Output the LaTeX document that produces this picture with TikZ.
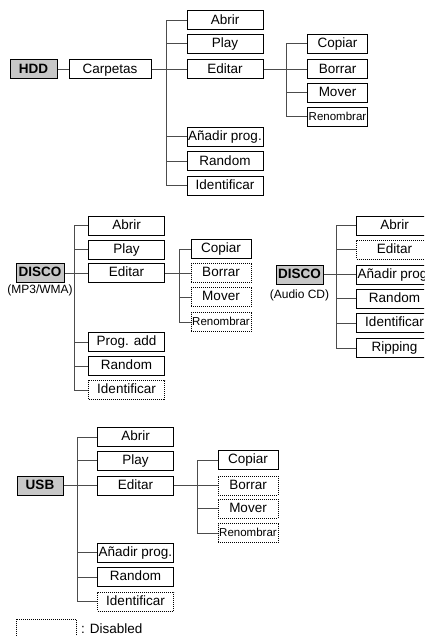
\documentclass[tikz,border=0pt]{standalone}
\usepackage{fontspec}
\setmainfont{Liberation Sans}
\begin{document}
\begin{tikzpicture}[x=1pt,y=-1pt,
  box/.style={draw=black, line width=1pt, minimum height=19pt, inner sep=0pt,
    font=\fontsize{13.5}{14}\selectfont, text height=9.8pt, text depth=2.6pt},
  mainw/.style={box, minimum width=76pt},
  subw/.style={box, minimum width=60pt},
  small/.style={font=\fontsize{11.5}{12}\selectfont, text height=8.4pt, text depth=2.2pt},
  dis/.style={line width=0.8pt, dash pattern=on 1pt off 1pt},
  root/.style={box, fill=black!22, font=\bfseries\fontsize{13.5}{14}\selectfont, minimum width=47pt},
  sublabel/.style={font=\fontsize{12}{13}\selectfont, inner sep=0pt},
  conn/.style={draw=black!70, line width=1pt}]
\useasboundingbox (0,0) rectangle (424,636);
\clip (0,0) rectangle (424,636);

% ---------- HDD ----------
\node[root] (hdd) at (33.5,69.5) {HDD};
\node[box, minimum width=82pt] (carp) at (110,69.5) {Carpetas};
\node[mainw] (h1) at (225,20.5) {Abrir};
\node[mainw] (h2) at (225,44) {Play};
\node[mainw] (h3) at (225,69.5) {Editar};
\node[mainw] (h4) at (225,137) {Añadir prog.};
\node[mainw] (h5) at (225,161.5) {Random};
\node[mainw] (h6) at (225,186) {Identificar};
\node[subw] (h31) at (337.5,44) {Copiar};
\node[subw] (h32) at (337.5,69.5) {Borrar};
\node[subw] (h33) at (337.5,93) {Mover};
\node[subw,small] (h34) at (337.5,117) {Renombrar};
\coordinate (ht) at (166,69.5);
\coordinate (hst) at (286,69.5);
\draw[conn] (hdd.east) -- (carp.west);
\draw[conn] (carp.east) -- (h3.west);
\foreach \n in {h1,h2,h4,h5,h6} \draw[conn] (ht) |- (\n.west);
\draw[conn] (h3.east) -- (h32.west);
\foreach \n in {h31,h33,h34} \draw[conn] (hst) |- (\n.west);

% ---------- DISCO (MP3/WMA) ----------
\node[root, minimum width=48pt] (d) at (40,273) {DISCO};
\node[sublabel] (dl) at (40,290) {(MP3/WMA)};
\node[mainw] (d1) at (126.5,225.5) {Abrir};
\node[mainw] (d2) at (126.5,249.5) {Play};
\node[mainw] (d3) at (126.5,273) {Editar};
\node[mainw] (d4) at (126.5,342) {Prog. add};
\node[mainw] (d5) at (126.5,366) {Random};
\node[mainw,dis] (d6) at (126.5,390) {Identificar};
\node[subw] (d31) at (221,249) {Copiar};
\node[subw,dis] (d32) at (221,273) {Borrar};
\node[subw,dis] (d33) at (221,297) {Mover};
\node[subw,small,dis] (d34) at (221,322) {Renombrar};
\coordinate (dt) at (74,273);
\coordinate (dst) at (179,273);
\draw[conn] (d.east) -- (d3.west);
\foreach \n in {d1,d2,d4,d5,d6} \draw[conn] (dt) |- (\n.west);
\draw[conn] (d3.east) -- (d32.west);
\foreach \n in {d31,d33,d34} \draw[conn] (dst) |- (\n.west);

% ---------- DISCO (Audio CD) ----------
\node[root] (c) at (299.5,274.5) {DISCO};
\node[sublabel] (cl) at (299.5,295) {(Audio CD)};
\node[mainw] (c1) at (394.5,225.5) {Abrir};
\node[mainw,dis] (c2) at (394.5,249.5) {Editar};
\node[mainw] (c3) at (394.5,274.5) {Añadir prog.};
\node[mainw] (c4) at (394.5,298.5) {Random};
\node[mainw] (c5) at (394.5,323) {Identificar};
\node[mainw] (c6) at (394.5,348) {Ripping};
\coordinate (ct) at (336,274.5);
\draw[conn] (c.east) -- (c3.west);
\foreach \n in {c1,c2,c4,c5,c6} \draw[conn] (ct) |- (\n.west);

% ---------- USB ----------
\node[root, minimum width=46pt] (u) at (40,485.5) {USB};
\node[mainw] (u1) at (135.5,437) {Abrir};
\node[mainw] (u2) at (135.5,460.5) {Play};
\node[mainw] (u3) at (135.5,485.5) {Editar};
\node[mainw] (u4) at (135.5,552.5) {Añadir prog.};
\node[mainw] (u5) at (135.5,577) {Random};
\node[mainw,dis] (u6) at (135.5,601.5) {Identificar};
\node[subw] (u31) at (248,460) {Copiar};
\node[subw,dis] (u32) at (248,485.5) {Borrar};
\node[subw,dis] (u33) at (248,508.5) {Mover};
\node[subw,small,dis] (u34) at (248,533) {Renombrar};
\coordinate (ut) at (77,485.5);
\coordinate (ust) at (197,485.5);
\draw[conn] (u.east) -- (u3.west);
\foreach \n in {u1,u2,u4,u5,u6} \draw[conn] (ut) |- (\n.west);
\draw[conn] (u3.east) -- (u32.west);
\foreach \n in {u31,u33,u34} \draw[conn] (ust) |- (\n.west);

% ---------- legend ----------
\node[draw=black, dis, minimum width=60pt, minimum height=26pt, inner sep=0pt] (lg) at (46,632) {};
\node[font=\fontsize{13.5}{14}\selectfont, anchor=west, inner sep=0pt] (lt) at (81,629) {: Disabled};
\end{tikzpicture}
\end{document}
